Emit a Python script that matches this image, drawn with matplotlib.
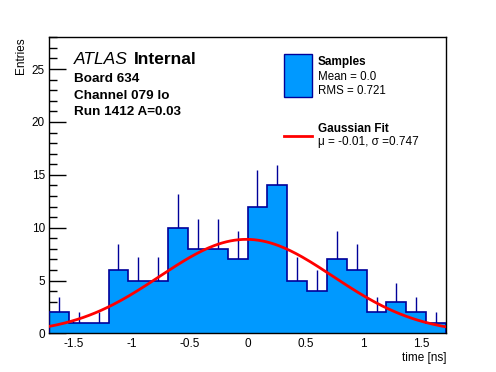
import numpy as np
import matplotlib
matplotlib.use("Agg")
import matplotlib.pyplot as plt
from matplotlib.ticker import MultipleLocator, FormatStrFormatter

plt.rcParams['font.family'] = ['Liberation Sans', 'DejaVu Sans']
plt.rcParams['axes.unicode_minus'] = False

# histogram data
x_lo, x_hi, n_bins = -1.71, 1.71, 20
counts = [2, 1, 1, 6, 5, 5, 10, 8, 8, 7, 12, 14, 5, 4, 7, 6, 2, 3, 2, 1]
errors = [1.41, 1.0, 1.0, 2.45, 2.24, 2.24, 3.16, 2.83, 2.83, 2.65,
          3.46, 1.9, 2.24, 2.0, 2.65, 2.45, 1.41, 1.73, 1.41, 1.0]

# gaussian fit parameters
fit_amp = 8.9
fit_mu = -0.01
fit_sigma = 0.747

fill_col = '#0099ff'
edge_col = '#000099'

edges = np.linspace(x_lo, x_hi, n_bins + 1)
centers = 0.5 * (edges[:-1] + edges[1:])
counts = np.array(counts, dtype=float)
errors = np.array(errors)

fig = plt.figure(figsize=(4.96, 3.72), dpi=100)
ax = fig.add_axes([0.0988, 0.1035, 0.8004, 0.7962])

# error bars first, the fill hides the lower half like ROOT does
ax.vlines(centers, counts - errors, counts + errors, color=edge_col, lw=1, zorder=1)
ax.stairs(counts, edges, fill=True, facecolor=fill_col, edgecolor='none', zorder=2)
ax.stairs(counts, edges, fill=False, color=edge_col, lw=1.2, zorder=3)

xf = np.linspace(x_lo, x_hi, 200)
yf = fit_amp * np.exp(-0.5 * ((xf - fit_mu) / fit_sigma) ** 2)
ax.plot(xf, yf, color='red', lw=2, zorder=4)

ax.set_xlim(x_lo, x_hi)
ax.set_ylim(0, 28)
ax.xaxis.set_major_locator(MultipleLocator(0.5))
ax.xaxis.set_minor_locator(MultipleLocator(0.1))
ax.xaxis.set_major_formatter(FormatStrFormatter('%g'))
ax.yaxis.set_major_locator(MultipleLocator(5))
ax.yaxis.set_minor_locator(MultipleLocator(1))
ax.tick_params(which='both', direction='in', top=False, right=False, labelsize=8.5)
ax.tick_params(axis='y', which='major', length=12, width=1, pad=3)
ax.tick_params(axis='y', which='minor', length=6, width=1)
ax.tick_params(axis='x', which='major', length=9, width=1, pad=3)
ax.tick_params(axis='x', which='minor', length=5, width=1)
for s in ax.spines.values():
    s.set_linewidth(1)

ax.set_xlabel('time [ns]', fontsize=8.5, loc='right', labelpad=2)
ax.set_ylabel('Entries', fontsize=8.5, loc='top', labelpad=3)

# ATLAS label block
tx = 74 / 496
fig.text(tx, 1 - 64 / 372, 'ATLAS', fontsize=12.5, style='italic')
fig.text(133.5 / 496, 1 - 64 / 372, 'Internal', fontsize=12.5, weight='bold')
fig.text(tx, 1 - 82.5 / 372, 'Board 634', fontsize=9.7, weight='bold')
fig.text(tx, 1 - 99 / 372, 'Channel 079 lo', fontsize=9.7, weight='bold')
fig.text(tx, 1 - 115 / 372, 'Run 1412 A=0.03', fontsize=9.7, weight='bold')

# legend drawn by hand to match the ROOT layout
lx0, lx1 = 283.5 / 496, 311.5 / 496
fig.patches.append(plt.Rectangle((lx0, 1 - 96.5 / 372), lx1 - lx0, 43 / 372,
                                 transform=fig.transFigure, facecolor=fill_col,
                                 edgecolor=edge_col, lw=1))
fig.lines.append(plt.Line2D([lx0, lx1], [1 - 136 / 372] * 2, transform=fig.transFigure,
                            color='red', lw=2))
ltx = 317.5 / 496
fig.text(ltx, 1 - 65 / 372, 'Samples', fontsize=8.5, weight='bold')
fig.text(ltx, 1 - 79.5 / 372, 'Mean = 0.0', fontsize=8.3)
fig.text(ltx, 1 - 93.5 / 372, 'RMS = 0.721', fontsize=8.3)
fig.text(ltx, 1 - 132.5 / 372, 'Gaussian Fit', fontsize=8.5, weight='bold')
fig.text(ltx, 1 - 145.5 / 372, '\u03bc = -0.01, \u03c3 =0.747', fontsize=8.5)

fig.savefig('out.png', dpi=100)
